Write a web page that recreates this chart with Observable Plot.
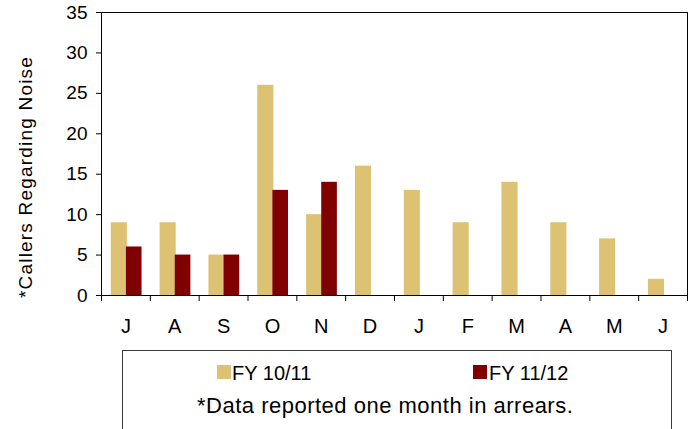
<!DOCTYPE html>
<html>
<head>
<meta charset="utf-8">
<script src="https://cdn.jsdelivr.net/npm/d3@7"></script>
<script src="https://cdn.jsdelivr.net/npm/@observablehq/plot@0.6"></script>
<style>
  html, body { margin: 0; padding: 0; background: #fff; }
  body { font-family: "Liberation Sans", Arial, sans-serif; color: #000; }
  #wrap { position: relative; width: 692px; height: 429px; overflow: hidden; }
  #chart { position: absolute; left: 0; top: 0; }
  #legendBox { position: absolute; left: 122px; top: 350px; width: 550px; height: 120px; border: 1px solid #3a3a3a; box-sizing: border-box; }
  .sw { position: absolute; width: 14px; height: 14px; }
  .lt { position: absolute; font-size: 20px; line-height: 20px; white-space: nowrap; }
  #ytitle { position: absolute; left: 25px; top: 177px; font-size: 19px; line-height: 19px; letter-spacing: 1.2px; white-space: nowrap; transform: translate(-50%, -50%) rotate(-90deg); }
</style>
</head>
<body>
<div id="wrap">
  <div id="chart"></div>
  <div id="ytitle"></div>
  <div id="legendBox"></div>
  <div class="sw" id="sw0" style="left:217px;top:365px;"></div>
  <div class="lt" id="lt0" style="left:232px;top:362.5px;"></div>
  <div class="sw" id="sw1" style="left:473px;top:365px;"></div>
  <div class="lt" id="lt1" style="left:489px;top:362.5px;"></div>
  <div class="lt" id="cap" style="left:197px;top:395.4px;font-size:22px;line-height:22px;letter-spacing:0.5px;"></div>
</div>
<script>
const months = ["J","A","S","O","N","D","J","F","M","A","M","J"];
const fy1011 = [9, 9, 5, 26, 10, 16, 13, 9, 14, 9, 7, 2];
const fy1112 = [6, 5, 5, 13, 14];
const seriesNames = ["FY 10/11", "FY 11/12"];
const seriesColors = ["#DEC274", "#800000"];
const yTicks = [0, 5, 10, 15, 20, 25, 30, 35];
const yTitle = "*Callers Regarding Noise";
const caption = "*Data reported one month in arrears.";

const rows0 = fy1011.map((v, i) => ({i, v}));
const rows1 = fy1112.map((v, i) => ({i, v}));

const plot = Plot.plot({
  width: 692,
  height: 345,
  marginTop: 12,
  marginBottom: 50,
  marginLeft: 101,
  marginRight: 5,
  style: {fontFamily: "Liberation Sans, Arial, sans-serif", fontSize: "19px", color: "#000", background: "#fff"},
  x: {type: "linear", domain: [0, months.length]},
  y: {domain: [0, 35]},
  marks: [
    Plot.rect(rows0, {x1: d => d.i + 0.2, x2: d => d.i + 0.53, y1: 0, y2: "v", fill: seriesColors[0]}),
    Plot.rect(rows1, {x1: d => d.i + 0.51, x2: d => d.i + 0.83, y1: 0, y2: "v", fill: seriesColors[1]}),
    Plot.frame({stroke: "#000", strokeWidth: 1}),
    Plot.axisY({ticks: yTicks, tickSize: 5, tickPadding: 9, fontSize: 19, label: null, stroke: "#000"}),
    Plot.axisX({ticks: d3.range(months.length + 1), tickSize: 6, tickFormat: () => "", label: null}),
    Plot.axisX({ticks: d3.range(months.length).map(i => i + 0.5), tickSize: 0, tickPadding: 23, fontSize: 20, tickFormat: t => months[Math.floor(t)], label: null}),
    Plot.ruleY([0], {stroke: "#000"})
  ]
});
document.getElementById("chart").appendChild(plot);

document.getElementById("ytitle").textContent = yTitle;
document.getElementById("sw0").style.background = seriesColors[0];
document.getElementById("sw1").style.background = seriesColors[1];
document.getElementById("lt0").textContent = seriesNames[0];
document.getElementById("lt1").textContent = seriesNames[1];
document.getElementById("cap").textContent = caption;
</script>
</body>
</html>
